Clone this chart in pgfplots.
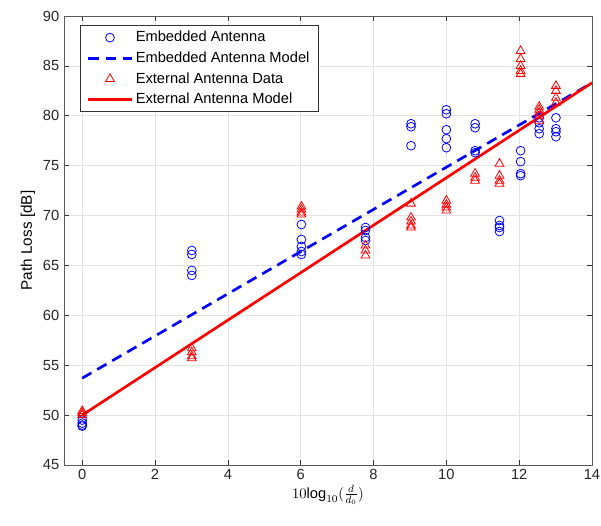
\documentclass[border=0pt]{standalone}
\usepackage{pgfplots}
\pgfplotsset{compat=1.18}
\usepackage{fontspec}
\setmainfont{Liberation Sans}
\definecolor{mblue}{rgb}{0,0,1}
\definecolor{mred}{rgb}{1,0,0}
\newcommand{\lf}{\fontsize{11}{13}\selectfont}
\pgfplotsset{
  longline/.style={legend image code/.code={\draw[##1] (0cm,0cm) -- (1.15cm,0cm);}},
  midmark/.style={legend image code/.code={\path (0cm,0cm) (1.15cm,0cm);\draw[##1] plot coordinates {(0.575cm,0cm)};}},
}
\begin{document}
\begin{tikzpicture}
\begin{axis}[
  name=ax,
  scale only axis,
  width=396pt, height=336.75pt,
  xmin=-0.5, xmax=14, ymin=45, ymax=90,
  xtick={0,2,...,14}, ytick={45,50,...,90},
  grid=major,
  major grid style={gray!22, line width=0.5pt},
  tick align=inside,
  major tick length=4pt,
  axis line style={black!65, line width=0.6pt},
  tick style={black!80, line width=0.5pt},
  ticklabel style={font=\lf, color=black!85},
  /pgf/number format/assume math mode=true,
  xlabel={$10\mathrm{log}_{10}(\frac{d}{d_0})$},
  ylabel={Path Loss [dB]},
  label style={font=\lf},
  ylabel style={font=\fontsize{11.5}{13}\selectfont, yshift=-1pt},
  xlabel style={yshift=3pt},
  legend cell align=left,
  legend style={at={(0.03,0.98)}, anchor=north west, font=\lf,
    draw=black!80, line width=0.5pt, row sep=2pt, inner xsep=5pt, inner ysep=2.5pt},
]
\addplot[only marks, mark=o, mark size=3.3pt, color=mblue, mark options={line width=0.6pt}, midmark]
coordinates {
(0,49.5) (0,49.2) (0,49.0) (0,48.9)
(3.01,66.5) (3.01,66.1) (3.01,64.5) (3.01,64.0)
(6.02,69.1) (6.02,67.6) (6.02,66.9) (6.02,66.4) (6.02,66.1)
(7.78,68.8) (7.78,68.5) (7.78,67.8) (7.78,67.5)
(9.03,79.2) (9.03,78.9) (9.03,77.0)
(10,80.6) (10,80.2) (10,78.6) (10,77.7) (10,76.8)
(10.79,79.2) (10.79,78.8) (10.79,76.5) (10.79,76.3)
(11.46,69.5) (11.46,69.0) (11.46,68.8) (11.46,68.4)
(12.04,76.5) (12.04,75.4) (12.04,74.2) (12.04,74.0)
(12.55,79.8) (12.55,79.3) (12.55,78.7) (12.55,78.2)
(13.01,79.8) (13.01,78.7) (13.01,78.4) (13.01,77.9)
};
\addlegendentry{Embedded Antenna}
\addplot[mblue, line width=2pt, dash pattern=on 8pt off 5pt, longline]
coordinates {(0,53.7) (14,83.3)};
\addlegendentry{Embedded Antenna Model\hspace{7pt}}
\addplot[only marks, mark=triangle, mark size=3.8pt, color=mred, mark options={line width=0.6pt}, midmark]
coordinates {
(0,50.0) (0,50.2) (0,50.4)
(3.01,56.7) (3.01,56.3) (3.01,55.9) (3.01,55.7)
(6.02,70.9) (6.02,70.6) (6.02,70.3) (6.02,70.1)
(7.78,67.0) (7.78,66.5) (7.78,66.0)
(9.03,71.2) (9.03,69.8) (9.03,69.4) (9.03,69.0) (9.03,68.8)
(10,71.5) (10,71.1) (10,70.8) (10,70.5)
(10.79,74.2) (10.79,73.8) (10.79,73.5)
(11.46,75.2) (11.46,74.0) (11.46,73.5) (11.46,73.2)
(12.04,86.5) (12.04,85.7) (12.04,85.0) (12.04,84.5) (12.04,84.2)
(12.55,80.9) (12.55,80.6) (12.55,80.3) (12.55,80.0) (12.55,79.5)
(13.01,83.0) (13.01,82.5) (13.01,81.8) (13.01,81.3)
};
\addlegendentry{External Antenna Data}
\addplot[mred, line width=2pt, longline]
coordinates {(0,50.0) (14,83.3)};
\addlegendentry{External Antenna Model}
\end{axis}
\pgfresetboundingbox
\path ([shift={(-48pt,-45.75pt)}]ax.south west) rectangle ([shift={(6.75pt,12pt)}]ax.north east);
\end{tikzpicture}
\end{document}
